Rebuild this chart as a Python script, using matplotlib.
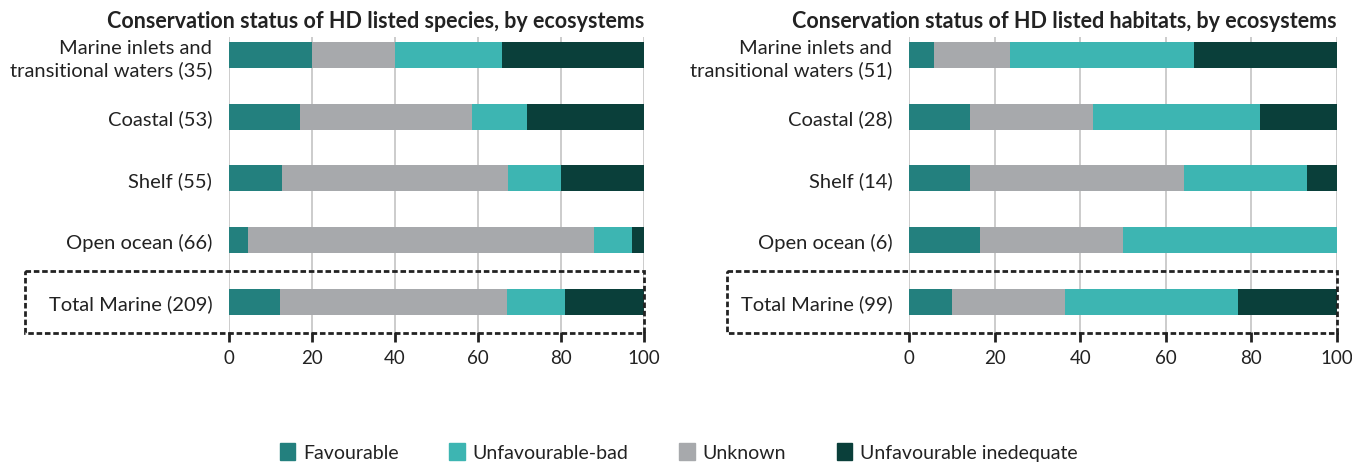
import numpy as np
import matplotlib
matplotlib.use("Agg")
import matplotlib.pyplot as plt
from matplotlib.patches import Rectangle, Patch
import matplotlib.transforms as mtransforms

plt.rcParams['font.family'] = ['Lato', 'DejaVu Sans']

# categories (top to bottom)
species_labels = ['Marine inlets and\ntransitional waters (35)', 'Coastal (53)', 'Shelf (55)',
                  'Open ocean (66)', 'Total Marine (209)']
habitat_labels = ['Marine inlets and\ntransitional waters (51)', 'Coastal (28)', 'Shelf (14)',
                  'Open ocean (6)', 'Total Marine (99)']

# percentages per status, in stacking order: favourable, unknown, unfavourable-bad, unfavourable inadequate
species_fav = [20.0, 17.0, 12.7, 4.5, 12.4]
species_unknown = [20.0, 41.5, 54.5, 83.4, 54.6]
species_bad = [25.7, 13.2, 12.8, 9.1, 13.9]
species_inad = [34.3, 28.3, 20.0, 3.0, 19.1]

habitat_fav = [5.9, 14.3, 14.3, 16.7, 10.1]
habitat_unknown = [17.6, 28.6, 50.0, 33.3, 26.3]
habitat_bad = [43.2, 39.2, 28.6, 50.0, 40.4]
habitat_inad = [33.3, 17.9, 7.1, 0.0, 23.2]

xticks = [0, 20, 40, 60, 80, 100]

c_fav = '#23807e'
c_bad = '#3db5b2'
c_unknown = '#a7a9ac'
c_inad = '#0a3f3a'

fig = plt.figure(figsize=(13.52, 4.64), dpi=100)

axes_specs = [
    ([229 / 1352, 131 / 464, 415 / 1352, 295 / 464], species_labels,
     [species_fav, species_unknown, species_bad, species_inad],
     'Conservation status of HD listed species, by ecosystems', -0.4916),
    ([909 / 1352, 131 / 464, 428 / 1352, 295 / 464], habitat_labels,
     [habitat_fav, habitat_unknown, habitat_bad, habitat_inad],
     'Conservation status of HD listed habitats, by ecosystems', -0.425),
]

colors = [c_fav, c_unknown, c_bad, c_inad]

for rect, labels, series, title, box_left in axes_specs:
    ax = fig.add_axes(rect)
    y = np.arange(len(labels))
    left = np.zeros(len(labels))
    for vals, col in zip(series, colors):
        ax.barh(y, vals, left=left, height=0.42, color=col, zorder=3)
        left += np.array(vals)
    ax.set_xlim(0, 100)
    ax.set_ylim(4.49, -0.29)
    ax.set_yticks(y)
    ax.set_yticklabels(labels, fontsize=14.5, color='#222222', linespacing=1.3)
    ax.set_xticks(xticks)
    ax.set_xticklabels([str(t) for t in xticks], fontsize=13.5, color='#222222')
    ax.tick_params(axis='y', length=0, pad=12)
    ax.tick_params(axis='x', length=7, width=2, color='#222222', pad=5)
    ax.grid(axis='x', color='#c4c4c4', lw=1.2, zorder=0)
    for s in ax.spines.values():
        s.set_visible(False)
    ax.set_title(title, loc='right', fontsize=15.5, fontweight='bold', color='#222222', pad=7)

    # dashed box around the total row
    trans = mtransforms.blended_transform_factory(ax.transAxes, ax.transData)
    box = Rectangle((box_left, 3.5), 1.0 - box_left, 1.0, transform=trans, fill=False,
                    ls=(0, (2, 1)), lw=2, edgecolor='#222222', clip_on=False, zorder=5)
    ax.add_patch(box)

handles = [Patch(color=c_fav), Patch(color=c_bad), Patch(color=c_unknown), Patch(color=c_inad)]
legend_labels = ['Favourable', 'Unfavourable-bad', 'Unknown', 'Unfavourable inedequate']
fig.legend(handles, legend_labels, loc='center', bbox_to_anchor=(0.502, 0.024), ncol=4,
           frameon=False, fontsize=14, handlelength=0.8, handleheight=1.0, handletextpad=0.4,
           columnspacing=2.6, labelcolor='#222222')

fig.savefig('out.png', dpi=100)
